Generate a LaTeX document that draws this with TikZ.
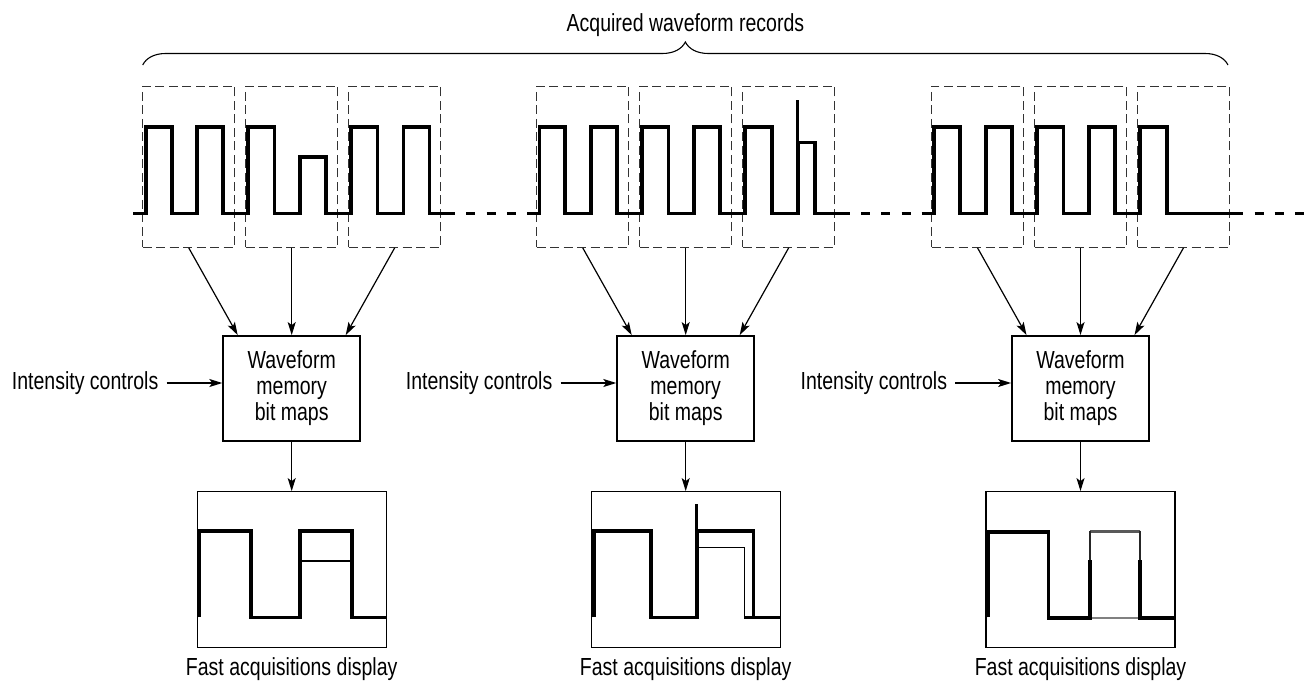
\documentclass[tikz,border=0pt]{standalone}
\usepackage{fontspec}
\setmainfont{Liberation Sans}[FakeStretch=0.79]
\usetikzlibrary{arrows.meta,decorations.pathreplacing,calc}
\begin{document}
\begin{tikzpicture}[x=1pt,y=-1pt,
  font=\fontsize{24.7}{26}\selectfont,
  dbox/.style={draw=black!80,line width=0.9pt,dash pattern=on 9pt off 4.5pt,minimum width=92pt,minimum height=161.3pt,inner sep=0pt},
  mbox/.style={draw,line width=1.8pt,minimum width=137pt,minimum height=105pt,align=center,inner sep=0pt},
  fbox/.style={draw,line width=1.2pt,minimum width=189pt,minimum height=156pt,inner sep=0pt},
  arr/.style={line width=1.2pt,-{Stealth[length=13pt,width=8pt,inset=3pt]}},
  wave/.style={line width=3.6pt,line join=miter},
  mid/.style={line width=2.8pt,black!85},
  midtop/.style={line width=2.8pt,black!65},
  thinw/.style={line width=1.1pt},
  lbl/.style={inner sep=0pt}]
\useasboundingbox (0,0) rectangle (1312,688);

% title and brace
\draw[line width=1.1pt,decorate,decoration={brace,amplitude=23pt}] (142.7,65) -- (1228,65);
\node[lbl,anchor=base] (title) at (685.4,31) {Acquired waveform records};

\foreach \g/\G in {1/142.7,2/536.7,3/931.5}{
  \node[dbox] (da\g) at (\G+46,166.7) {};
  \node[dbox] (db\g) at (\G+149,166.7) {};
  \node[dbox] (dc\g) at (\G+252,166.7) {};
  \node[mbox] (m\g) at (\G+149,388.5) {Waveform\\memory\\bit maps};
  \node[fbox] (f\g) at (\G+149,569.7) {};
  \node[anchor=east,inner xsep=8pt,inner ysep=0pt] (ic\g) at (\G+23.8,383) {Intensity controls};
  \node[lbl,anchor=base] (fl\g) at (\G+149,675) {Fast acquisitions display};
  \draw[arr] (da\g.south) -- ($(m\g.north)+(-54,0)$);
  \draw[arr] (db\g.south) -- (m\g.north);
  \draw[arr] (dc\g.south) -- ($(m\g.north)+(54,0)$);
  \draw[arr] (ic\g.east) -- (ic\g.east -| m\g.west);
  \draw[arr] (m\g.south) -- (f\g.north);
}

% acquired waveforms
\draw[wave] (133.3,213.3) -| (146,126.7) -| (171.7,213.3) -| (196.7,126.7) -| (222.7,213.3)
  -| (247.7,126.7) -| (274.3,213.3) -| (300,156.7) -| (326,213.3) -| (350.7,126.7)
  -| (377.3,213.3) -| (403.3,126.7) -| (429.3,213.3) -- (455,213.3);
\draw[wave] (527.3,213.3) -| (539.3,126.7) -| (565,213.3) -| (591,126.7) -| (616.7,213.3)
  -| (641.7,126.7) -| (668.3,213.3) -| (694,126.7) -| (720,213.3) -| (745,126.7)
  -| (771.7,213.3) -| (797.7,142.3) -| (815,213.3) -- (850,213.3);
\draw[line width=3pt] (797.7,142.3) -- (797.7,100);
\draw[wave] (921.7,213.3) -| (934,126.7) -| (960,213.3) -| (986,126.7) -| (1011.7,213.3)
  -| (1036.7,126.7) -| (1063.3,213.3) -| (1089,126.7) -| (1115,213.3) -| (1140,126.7)
  -| (1166.7,213.3) -- (1243.3,213.3);
% dotted continuation
\draw[line width=3.6pt,dash pattern=on 9pt off 11.3pt] (466.3,213.3) -- (515.9,213.3);
\draw[line width=3.6pt,dash pattern=on 9pt off 11.2pt] (861.2,213.3) -- (910.6,213.3);
\draw[line width=3.6pt,dash pattern=on 9pt off 11.2pt] (1254.5,213.3) -- (1303.9,213.3);

% display 1
\draw[wave] (199.3,617.3) -- (199.3,530.7) -| (250.7,617.3) -| (300,530.7) -| (351.7,617.3) -- (385.5,617.3);
\draw[thinw] (300,561) -- (351.7,561);
% display 2
\draw[wave] (594,617.3) -- (594,530.7) -| (650.7,617.3) -| (696.7,530.7) -| (753.3,617.3);
\draw[wave] (744.3,617.3) -- (779.5,617.3);
\draw[line width=3pt] (696.7,617.3) -- (696.7,504);
\draw[thinw] (696.7,547.3) -| (744.3,617.3);
% display 3
\draw[midtop] (1090,531.7) -- (1140,531.7);
\draw[mid] (1090,561) -- (1090,530.5);
\draw[mid] (1140,530.5) -- (1140,561);
\draw[line width=1.2pt,black!50] (1090,618) -- (1140,618);
\draw[wave] (988.3,617.3) -- (988.3,531.7) -| (1048.3,618) -- (1090,618) -- (1090,560);
\draw[wave] (1140,560) -- (1140,618) -- (1174.5,618);
\end{tikzpicture}
\end{document}
